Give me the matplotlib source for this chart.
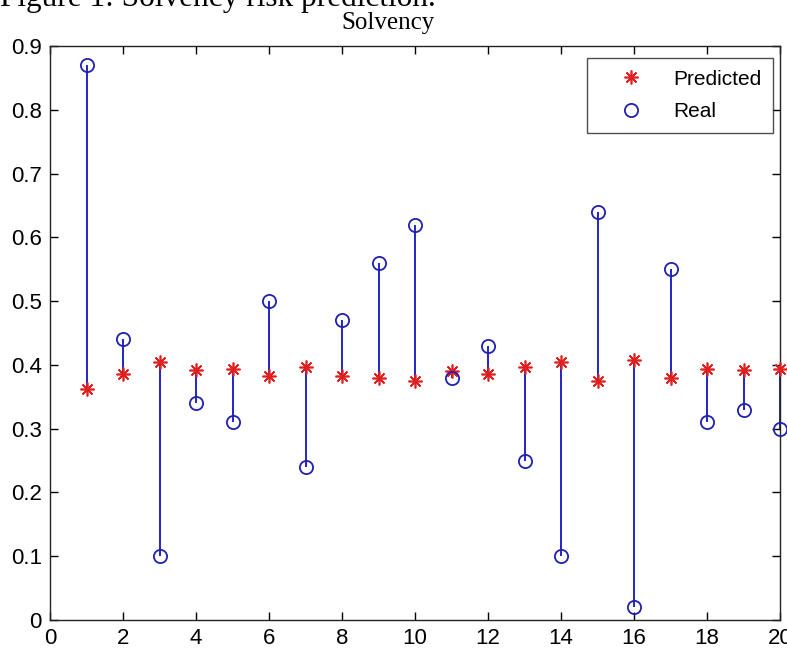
import matplotlib
matplotlib.use("Agg")
import matplotlib.pyplot as plt

# data
samples = list(range(1, 21))
predicted = [0.362, 0.386, 0.405, 0.392, 0.394, 0.383, 0.397, 0.383, 0.380, 0.375,
             0.390, 0.386, 0.397, 0.405, 0.375, 0.408, 0.380, 0.394, 0.392, 0.394]
real = [0.87, 0.44, 0.10, 0.34, 0.31, 0.50, 0.24, 0.47, 0.56, 0.62,
        0.38, 0.43, 0.25, 0.10, 0.64, 0.02, 0.55, 0.31, 0.33, 0.30]
xticks = [0, 2, 4, 6, 8, 10, 12, 14, 16, 18, 20]
yticks = [0, 0.1, 0.2, 0.3, 0.4, 0.5, 0.6, 0.7, 0.8, 0.9]

plt.rcParams['font.family'] = ['Liberation Sans', 'DejaVu Sans']

fig = plt.figure(figsize=(7.87, 6.48), dpi=100)
ax = fig.add_axes([50 / 787, 1 - 620 / 648, 730 / 787, 574 / 648])

# stems between predicted and real values
ax.vlines(samples, predicted, real, colors='#2424c8', linewidth=1.4, zorder=2, clip_on=False)

ax.plot(samples, predicted, linestyle='none', marker=(8, 2, 0), markersize=10,
        markeredgecolor='#e02020', markeredgewidth=1.2, color='#e02020',
        label='Predicted', zorder=3, clip_on=False)
ax.plot(samples, real, linestyle='none', marker='o', markersize=9.5,
        markerfacecolor='none', markeredgecolor='#2020b0', markeredgewidth=1.3,
        label='Real', zorder=3, clip_on=False)

ax.set_xlim(0, 20)
ax.set_ylim(0, 0.9)
ax.set_xticks(xticks)
ax.set_xticklabels([str(t) for t in xticks])
ax.set_yticks(yticks)
ax.set_yticklabels(['0' if t == 0 else f'{t:.1f}' for t in yticks])
ax.tick_params(direction='in', length=6, width=1, labelsize=16, pad=6,
               top=True, right=True)
for s in ax.spines.values():
    s.set_linewidth(1.0)
    s.set_color('#222222')

leg = ax.legend(loc='upper right', bbox_to_anchor=(0.990, 0.979), borderaxespad=0,
                fontsize=15, frameon=True, fancybox=False, edgecolor='#222222',
                borderpad=0.55, handletextpad=0.4, handlelength=3.2, labelspacing=0.65)
leg.get_frame().set_linewidth(1.0)

fig.text(388 / 787, 1 - 29 / 648, 'Solvency', family=['Liberation Serif', 'DejaVu Serif'],
         fontsize=18, ha='center', va='baseline')
fig.text(0, 1 - 6 / 648, 'Figure 1: Solvency risk prediction.',
         family=['Liberation Serif', 'DejaVu Serif'], fontsize=22.5, ha='left', va='baseline')

fig.savefig('out.png', dpi=100)
